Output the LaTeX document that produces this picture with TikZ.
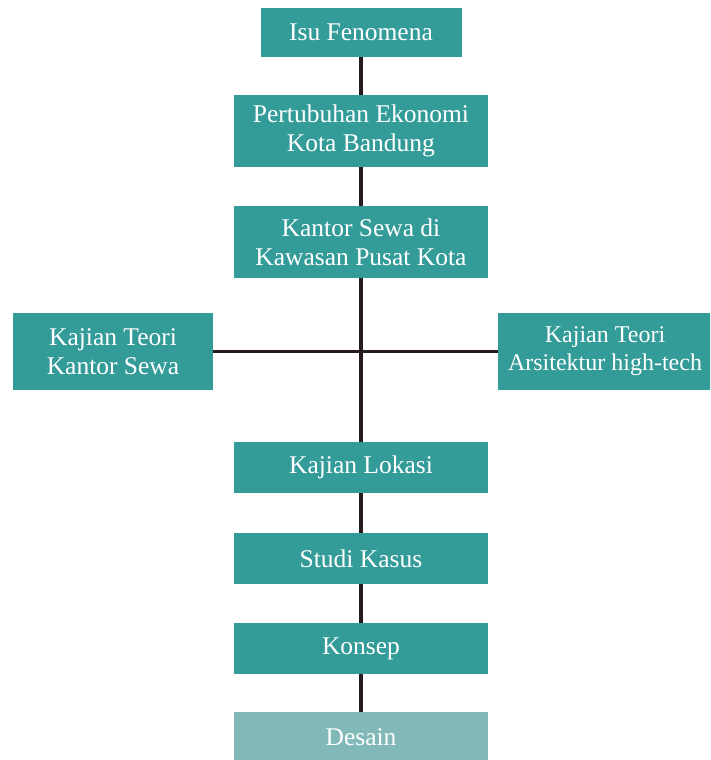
\documentclass[tikz,border=0pt]{standalone}
\usepackage{fontspec}
\setmainfont{Liberation Serif}
\usepackage{xcolor}

\definecolor{tealbox}{RGB}{51,155,152}
\definecolor{tealmuda}{RGB}{128,185,184}
\definecolor{garis}{RGB}{38,28,28}

\tikzset{
  kotak/.style={fill=tealbox, text=white, align=center, inner sep=0pt,
    font=\fontsize{25.5}{29}\selectfont},
  sambung/.style={draw=garis, line width=3.5pt}
}

\begin{document}
\begin{tikzpicture}[x=1pt,y=1pt,yscale=-1,xscale=1]
\useasboundingbox (0,0) rectangle (710,760);
\clip (0,0) rectangle (710,760);

%Shape: Rectangle [isu]
\node [kotak, minimum width=201, minimum height=49] (isu) at (361,32.5) {Isu Fenomena};
%Shape: Rectangle [ekonomi]
\node [kotak, minimum width=254, minimum height=72] (ekonomi) at (361,131) {Pertubuhan Ekonomi\\Kota Bandung};
%Shape: Rectangle [kantor]
\node [kotak, minimum width=254, minimum height=72] (kantor) at (361,242) {Kantor Sewa di\\Kawasan Pusat Kota};
%Shape: Rectangle [teori kiri]
\node [kotak, minimum width=200, minimum height=77] (kiri) at (113,351.5) {Kajian Teori\\Kantor Sewa};
%Shape: Rectangle [teori kanan]
\node [kotak, minimum width=224, minimum height=77] (kanan) at (610,351.5) {};
% Text Node
\node [kotak, fill=none, font=\fontsize{24}{28}\selectfont] (kanantext) at (605,351.5) {Kajian Teori\\Arsitektur high-tech};
%Shape: Rectangle [lokasi]
\node [kotak, minimum width=254, minimum height=51] (lokasi) at (361,467.5) {Kajian Lokasi};
%Shape: Rectangle [kasus]
\node [kotak, minimum width=254, minimum height=51] (kasus) at (361,558.5) {Studi Kasus};
%Shape: Rectangle [konsep]
\node [kotak, minimum width=254, minimum height=51] (konsep) at (361,648.5) {Konsep};
%Shape: Rectangle [desain]
\node [kotak, fill=tealmuda, minimum width=254, minimum height=51] (desain) at (361,737.5) {Desain};

% Lines
\draw [sambung] (isu.south) -- (ekonomi.north);
\draw [sambung] (ekonomi.south) -- (kantor.north);
\draw [sambung] (kantor.south) -- (lokasi.north);
\draw [sambung] (kiri.east) -- (kanan.west);
\draw [sambung] (lokasi.south) -- (kasus.north);
\draw [sambung] (kasus.south) -- (konsep.north);
\draw [sambung] (konsep.south) -- (desain.north);

\end{tikzpicture}
\end{document}
